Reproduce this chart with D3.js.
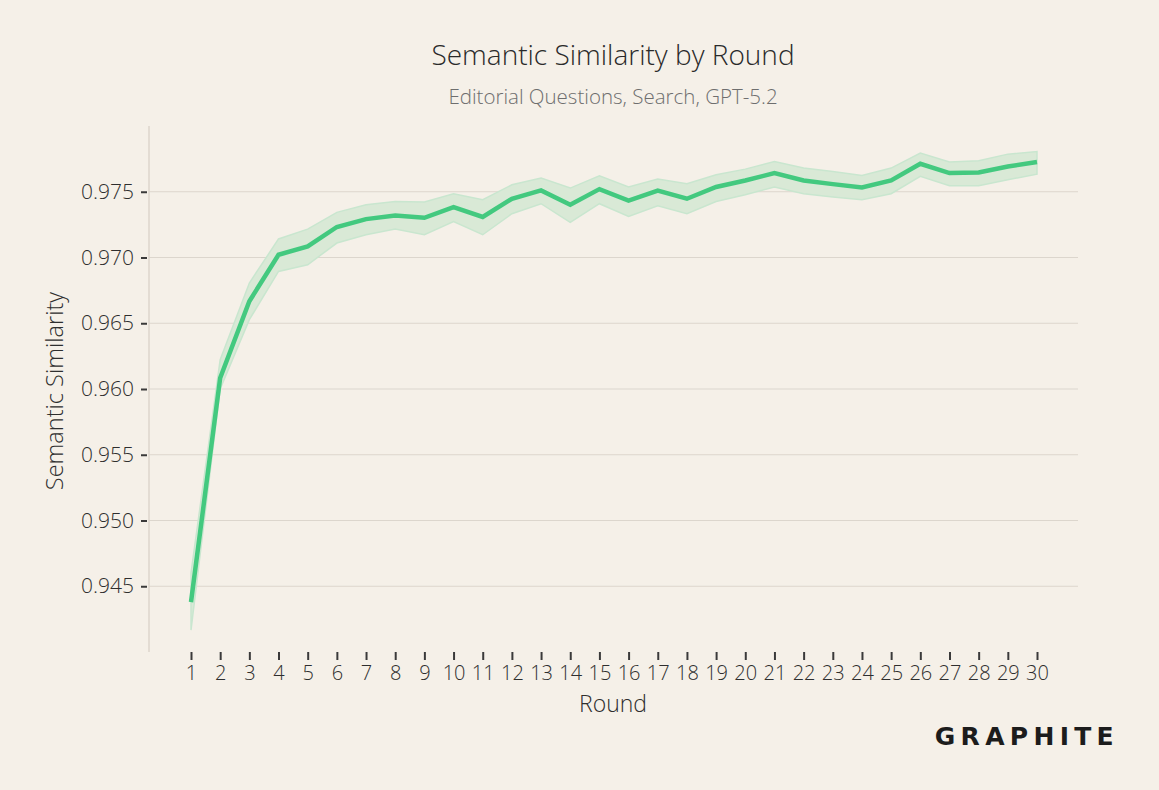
<!DOCTYPE html>
<html>
<head>
<meta charset="utf-8">
<script src="https://cdn.jsdelivr.net/npm/d3@7"></script>
<style>
  html, body { margin: 0; padding: 0; background: #f5f0e8; }
  svg { display: block; font-family: "Open Sans", "Noto Sans", sans-serif; }
</style>
</head>
<body>
<script>
// rounds 1..30
const rounds = d3.range(1, 31);

// mean semantic similarity per round
const meanValues = [
  0.94379, 0.96084, 0.96667, 0.97021, 0.97084, 0.97232, 0.97292, 0.97320, 0.97302, 0.97383,
  0.97308, 0.97447, 0.97510, 0.97401, 0.97520, 0.97432, 0.97508, 0.97447, 0.97536, 0.97586,
  0.97642, 0.97586, 0.97558, 0.97533, 0.97586, 0.97713, 0.97642, 0.97647, 0.97692, 0.97726
];

// confidence band
const upperValues = [
  0.94600, 0.96223, 0.96806, 0.97141, 0.97216, 0.97343, 0.97401, 0.97426, 0.97422, 0.97485,
  0.97439, 0.97553, 0.97604, 0.97528, 0.97622, 0.97536, 0.97596, 0.97561, 0.97629, 0.97672,
  0.97730, 0.97680, 0.97654, 0.97624, 0.97680, 0.97794, 0.97726, 0.97736, 0.97786, 0.97806
];
const lowerValues = [
  0.94167, 0.96000, 0.96527, 0.96894, 0.96945, 0.97110, 0.97173, 0.97216, 0.97173, 0.97274,
  0.97173, 0.97333, 0.97409, 0.97267, 0.97409, 0.97312, 0.97394, 0.97333, 0.97426, 0.97477,
  0.97536, 0.97485, 0.97460, 0.97439, 0.97485, 0.97617, 0.97546, 0.97546, 0.97591, 0.97634
];

const yTicks = [0.945, 0.950, 0.955, 0.960, 0.965, 0.970, 0.975];

function main() {
  const W = 1159, H = 790;
  const left = 149, right = 1078, top = 126, bottom = 652;

  const svg = d3.select("body").append("svg")
    .attr("width", W)
    .attr("height", H);

  const x = d3.scaleLinear().domain([1, 30]).range([191, 1037]);
  const y = d3.scaleLinear().domain([0.94, 0.98]).range([bottom, top]);

  const data = rounds.map((r, i) => ({
    r: r, m: meanValues[i], lo: lowerValues[i], hi: upperValues[i]
  }));

  // grid
  svg.append("g")
    .selectAll("line")
    .data(yTicks)
    .join("line")
    .attr("x1", left).attr("x2", right)
    .attr("y1", d => y(d)).attr("y2", d => y(d))
    .attr("stroke", "#dcd6cd")
    .attr("stroke-width", 1.2);

  // y axis
  const yAxis = svg.append("g")
    .attr("transform", "translate(" + left + ",0)")
    .call(d3.axisLeft(y).tickValues(yTicks).tickFormat(d3.format(".3f")).tickSize(6).tickPadding(9));
  yAxis.select(".domain").remove();
  yAxis.selectAll(".tick line").attr("stroke", "#3a3a3a").attr("stroke-width", 2)
    .attr("transform", "translate(-2,0)");
  yAxis.selectAll(".tick text").attr("fill", "#2e2e2e").style("font-size", "21px").style("font-weight", 300)
    .style("font-family", "'Open Sans', sans-serif");
  svg.append("line")
    .attr("x1", left).attr("x2", left)
    .attr("y1", top).attr("y2", bottom)
    .attr("stroke", "#dcd6cd").attr("stroke-width", 1.5);

  // x axis
  const xAxis = svg.append("g")
    .attr("transform", "translate(0," + bottom + ")")
    .call(d3.axisBottom(x).tickValues(rounds).tickFormat(d3.format("d")).tickSize(8).tickPadding(6));
  xAxis.select(".domain").remove();
  xAxis.selectAll(".tick line").attr("stroke", "#3a3a3a").attr("stroke-width", 2);
  xAxis.selectAll(".tick text").attr("fill", "#2e2e2e").style("font-size", "20px").style("font-weight", 300)
    .style("font-family", "'Open Sans', sans-serif");

  // band
  const area = d3.area()
    .x(d => x(d.r))
    .y0(d => y(d.lo))
    .y1(d => y(d.hi));
  svg.append("path")
    .datum(data)
    .attr("d", area)
    .attr("fill", "#d9e9d6")
    .attr("stroke", "#c9e6cf")
    .attr("stroke-width", 1.5);

  // mean line
  const line = d3.line()
    .x(d => x(d.r))
    .y(d => y(d.m));
  svg.append("path")
    .datum(data)
    .attr("d", line)
    .attr("fill", "none")
    .attr("stroke", "#43c97f")
    .attr("stroke-width", 4.5)
    .attr("stroke-linejoin", "miter");

  // titles
  svg.append("text")
    .attr("x", 613).attr("y", 65)
    .attr("text-anchor", "middle")
    .attr("fill", "#2a2a2a")
    .style("font-size", "28px").style("font-weight", 300)
    .text("Semantic Similarity by Round");
  svg.append("text")
    .attr("x", 613).attr("y", 104)
    .attr("text-anchor", "middle")
    .attr("fill", "#6e6e6e")
    .style("font-size", "20.5px").style("font-weight", 300)
    .text("Editorial Questions, Search, GPT-5.2");

  svg.append("text")
    .attr("x", 613).attr("y", 712)
    .attr("text-anchor", "middle")
    .attr("fill", "#2e2e2e")
    .style("font-size", "23px").style("font-weight", 300)
    .text("Round");

  svg.append("text")
    .attr("transform", "translate(63," + ((top + bottom) / 2 + 2) + ") rotate(-90)")
    .attr("text-anchor", "middle")
    .attr("fill", "#2e2e2e")
    .style("font-size", "23.5px").style("font-weight", 300)
    .text("Semantic Similarity");

  // logo
  svg.append("text")
    .attr("x", 1119).attr("y", 745)
    .attr("text-anchor", "end")
    .attr("fill", "#1c1c1c")
    .style("font-family", "'DejaVu Sans', sans-serif")
    .style("font-size", "25px").style("font-weight", 700)
    .style("letter-spacing", "5.3px")
    .text("GRAPHITE");
}
window.onload = main;
</script>
</body>
</html>
